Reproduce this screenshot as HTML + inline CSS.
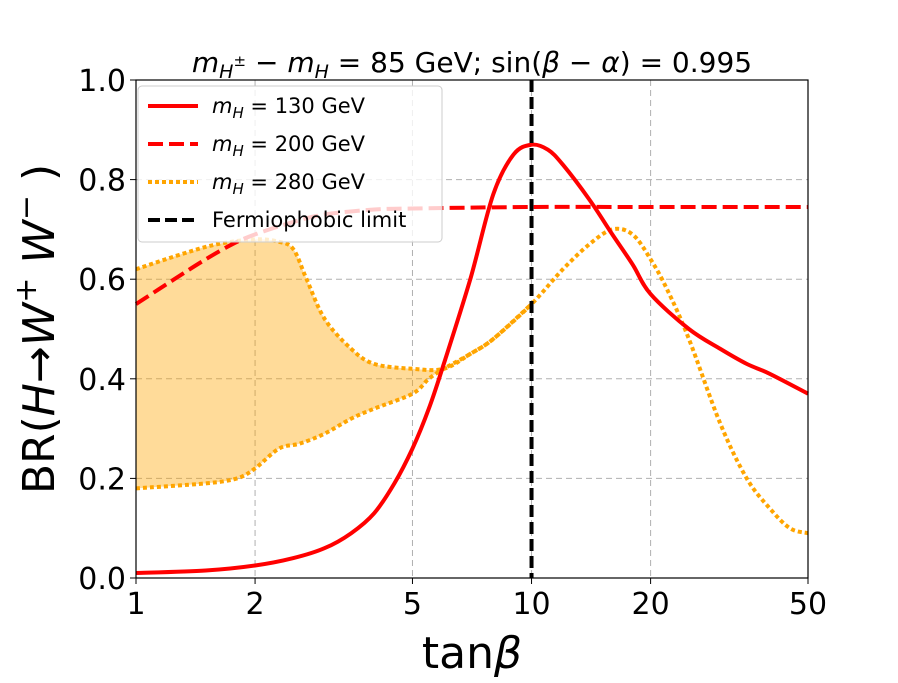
<!DOCTYPE html>
<html><head><meta charset="utf-8"><style>
body{margin:0;background:#fff;}
svg text{font-family:"DejaVu Sans","Liberation Sans",sans-serif;}
</style></head><body>
<svg id="chart" width="898" height="678" xmlns="http://www.w3.org/2000/svg">
<g id="grid"></g>
<g id="series"></g>
<g id="axes"></g>
<text x="472" y="72" font-size="28" text-anchor="middle"><tspan font-style="italic">m</tspan><tspan font-size="19" dy="6" font-style="italic">H</tspan><tspan font-size="15" dy="-12">±</tspan><tspan dy="6"> − </tspan><tspan font-style="italic">m</tspan><tspan font-size="19" dy="6" font-style="italic">H</tspan><tspan dy="-6"> = 85 GeV; sin(</tspan><tspan font-style="italic">β</tspan><tspan> − </tspan><tspan font-style="italic">α</tspan><tspan>) = 0.995</tspan></text>
<text x="472" y="668" font-size="44" text-anchor="middle">tan<tspan font-style="italic">β</tspan></text>
<text transform="translate(54,329) rotate(-90)" font-size="44" text-anchor="middle">BR(<tspan font-style="italic">H</tspan>→<tspan font-style="italic">W</tspan><tspan font-size="30" dy="-18">+</tspan><tspan dy="18" font-style="italic"> W</tspan><tspan font-size="30" dy="-18">−</tspan><tspan dy="18"> )</tspan></text>
<g>
<rect x="138" y="86" width="304" height="156" rx="4" fill="#fff" fill-opacity="0.8" stroke="#ccc"/>
<line x1="148" y1="106" x2="198" y2="106" stroke="red" stroke-width="4"/>
<text x="212" y="113" font-size="21"><tspan font-style="italic">m</tspan><tspan font-size="15" dy="5" font-style="italic">H</tspan><tspan dy="-5"> = 130 GeV</tspan></text>
<line x1="148" y1="144" x2="198" y2="144" stroke="red" stroke-width="4" stroke-dasharray="15,6"/>
<text x="212" y="151" font-size="21"><tspan font-style="italic">m</tspan><tspan font-size="15" dy="5" font-style="italic">H</tspan><tspan dy="-5"> = 200 GeV</tspan></text>
<line x1="148" y1="182" x2="198" y2="182" stroke="orange" stroke-width="4" stroke-dasharray="4,3"/>
<text x="212" y="189" font-size="21"><tspan font-style="italic">m</tspan><tspan font-size="15" dy="5" font-style="italic">H</tspan><tspan dy="-5"> = 280 GeV</tspan></text>
<line x1="148" y1="220" x2="198" y2="220" stroke="black" stroke-width="4" stroke-dasharray="12,5"/>
<text x="212" y="227" font-size="21">Fermiophobic limit</text>
</g>
</svg>
<script>
const xTicks=[1,2,5,10,20,50];
const yTicks=[0,0.2,0.4,0.6,0.8,1.0];
const m130X=[1,1.5,2,2.5,3,3.5,4,4.5,5,5.5,6,7,8,9,10,11,12,14,16,18,20,25,30,35,40,50];
const m130Y=[0.01,0.015,0.025,0.04,0.06,0.09,0.13,0.19,0.26,0.34,0.43,0.6,0.77,0.85,0.87,0.86,0.83,0.76,0.69,0.63,0.57,0.5,0.46,0.43,0.41,0.37];
const m200X=[1,1.25,1.5,1.75,2,2.5,3,4,5,10,20,50];
const m200Y=[0.55,0.6,0.64,0.67,0.69,0.715,0.73,0.74,0.742,0.745,0.745,0.745];
const m280X=[1,1.3,1.6,2,2.3,2.5,2.7,3,3.5,4,5,6,7,8,10,12,14,16,18,20,22,25,30,35,40,45,50];
const m280Y=[0.62,0.65,0.67,0.68,0.675,0.66,0.6,0.52,0.46,0.43,0.42,0.42,0.45,0.48,0.55,0.62,0.67,0.7,0.69,0.64,0.58,0.48,0.31,0.2,0.14,0.1,0.09];
const lowX=[1,1.5,1.8,2,2.3,2.6,3,3.5,4,5,5.5,6,7,8,10];
const lowY=[0.18,0.19,0.2,0.22,0.26,0.27,0.29,0.32,0.34,0.37,0.4,0.42,0.45,0.48,0.55];
const fermio=10;
const X0=136,X1=808,Y0=578,Y1=80;
const sx=v=>X0+Math.log10(v)/Math.log10(50)*(X1-X0);
const sy=v=>Y0-v*(Y0-Y1);
const NS="http://www.w3.org/2000/svg";
function mk(p,t,a){const e=document.createElementNS(NS,t);for(const k in a)e.setAttribute(k,a[k]);p.appendChild(e);return e;}
const grid=document.getElementById('grid'),ser=document.getElementById('series'),ax=document.getElementById('axes');
xTicks.forEach(t=>{const g=mk(grid,'line',{x1:sx(t),x2:sx(t),y1:Y1,y2:Y0,stroke:'#b0b0b0','stroke-dasharray':'6,4'});


mk(ax,'line',{x1:sx(t),x2:sx(t),y1:Y0,y2:Y0+6,stroke:'#000'});
const l=mk(ax,'text',{x:sx(t),y:Y0+36,'font-size':30,'text-anchor':'middle'});l.textContent=t;

});
yTicks.forEach(t=>{const g=mk(grid,'line',{x1:X0,x2:X1,y1:sy(t),y2:sy(t),stroke:'#b0b0b0','stroke-dasharray':'6,4'});


mk(ax,'line',{x1:X0-6,x2:X0,y1:sy(t),y2:sy(t),stroke:'#000'});
const l=mk(ax,'text',{x:X0-10,y:sy(t)+11,'font-size':30,'text-anchor':'end'});l.textContent=t.toFixed(1);

});
const fr=mk(ax,'rect',{x:X0,y:Y1,width:X1-X0,height:Y0-Y1,fill:'none',stroke:'#000','stroke-width':1.2});


function P(xs,ys){return xs.map((x,i)=>[sx(x),sy(ys[i])]);}
function cr(p,move){let d=(move?'M':'L')+p[0][0].toFixed(1)+','+p[0][1].toFixed(1);
for(let i=0;i<p.length-1;i++){const a=p[Math.max(i-1,0)],b=p[i],c=p[i+1],e=p[Math.min(i+2,p.length-1)];
d+='C'+(b[0]+(c[0]-a[0])/6).toFixed(1)+','+(b[1]+(c[1]-a[1])/6).toFixed(1)+' '+(c[0]-(e[0]-b[0])/6).toFixed(1)+','+(c[1]-(e[1]-b[1])/6).toFixed(1)+' '+c[0].toFixed(1)+','+c[1].toFixed(1);}
return d;}
const upX=[],upY=[];m280X.forEach((x,i)=>{if(x<=10){upX.push(x);upY.push(m280Y[i]);}});
const band=mk(ser,'path',{d:cr(P(upX,upY),true)+cr(P(lowX,lowY).reverse(),false)+'Z',fill:'orange','fill-opacity':0.4,stroke:'none'});


const l1=mk(ser,'path',{d:cr(P(m280X,m280Y),true),fill:'none',stroke:'orange','stroke-width':4,'stroke-dasharray':'4,3'});


const l2=mk(ser,'path',{d:cr(P(lowX,lowY),true),fill:'none',stroke:'orange','stroke-width':4,'stroke-dasharray':'4,3'});


const l3=mk(ser,'path',{d:cr(P(m200X,m200Y),true),fill:'none',stroke:'red','stroke-width':4,'stroke-dasharray':'15,6'});


const l4=mk(ser,'path',{d:cr(P(m130X,m130Y),true),fill:'none',stroke:'red','stroke-width':4});


const f=mk(ser,'line',{x1:sx(fermio),x2:sx(fermio),y1:Y1,y2:Y0,stroke:'#000','stroke-width':4,'stroke-dasharray':'12,5'});


</script>
</body></html>
